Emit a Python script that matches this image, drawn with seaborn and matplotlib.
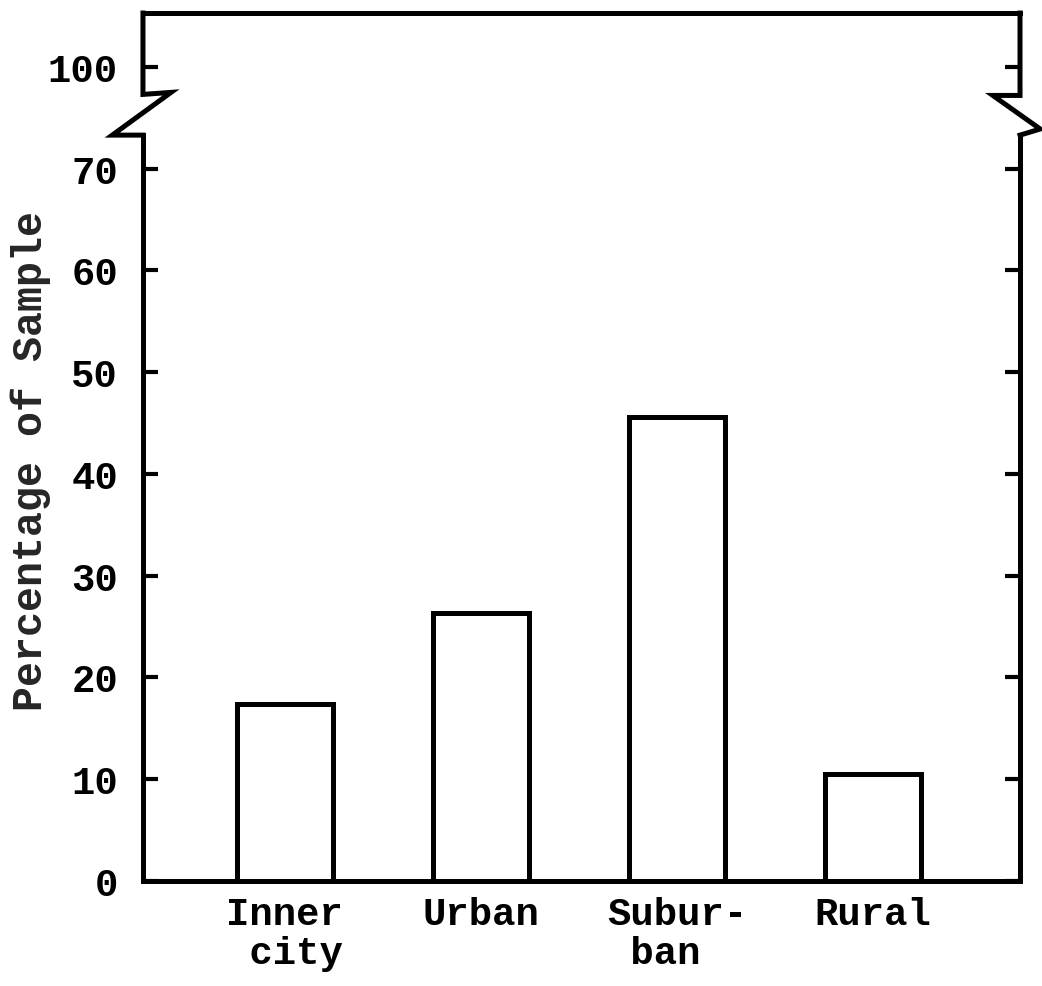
import pandas as pd
import matplotlib.pyplot as plt
import seaborn as sns
from matplotlib.transforms import blended_transform_factory

# data (percent of sample per area type)
areas = ["Inner\n city", "Urban", "Subur-\n ban", "Rural"]
percent = [17.4, 26.3, 45.6, 10.5]

# y axis is broken between 70 and 100: the "100" tick sits at 80
ytick_pos = [0, 10, 20, 30, 40, 50, 60, 70, 80]
ytick_labels = ["0", "10", "20", "30", "40", "50", "60", "70", "100"]

LW = 3.6


def draw_break(ax):
    # zigzag break marks on both vertical spines (x in axes coords, y in data)
    trans = blended_transform_factory(ax.transAxes, ax.transData)
    ytop = ax.get_ylim()[1]
    left = [(0.0, ytop), (0.0, 77.3), (0.032, 77.5), (-0.035, 73.3), (0.0, 73.3)]
    right = [(1.0, ytop), (1.0, 77.2), (0.969, 77.2), (1.023, 73.9), (1.0, 73.3)]
    for pts in (left, right):
        xs, ys = zip(*pts)
        ax.plot(xs, ys, color="black", lw=LW, transform=trans, clip_on=False,
                solid_joinstyle="miter", solid_capstyle="projecting")


def run():
    sns.set_style("ticks")
    plt.rcParams["font.family"] = ["Liberation Mono", "DejaVu Sans Mono"]
    plt.rcParams["font.weight"] = "bold"

    df = pd.DataFrame({"area": areas, "percent": percent})

    fig = plt.figure(figsize=(10.42, 9.87), dpi=100)
    ax = fig.add_axes([0.1372, 0.1064, 0.8417, 0.8794])

    sns.barplot(data=df, x="area", y="percent", color="white", edgecolor="black",
                linewidth=LW, width=0.49, saturation=1, ax=ax)

    ax.set_xlim(-0.724, 3.75)
    ax.set_ylim(0, 85.3)
    ax.set_yticks(ytick_pos)
    ax.set_yticklabels(ytick_labels)
    ax.set_xlabel("")
    ax.set_ylabel("Percentage of Sample", fontsize=30, labelpad=0, fontweight="bold")
    ax.yaxis.set_label_coords(-0.105, 0.485)

    for side in ["top", "bottom", "left", "right"]:
        ax.spines[side].set_visible(True)
        ax.spines[side].set_linewidth(LW)
        ax.spines[side].set_color("black")
    ax.spines["left"].set_bounds(0, 73.3)
    ax.spines["right"].set_bounds(0, 73.3)

    ax.tick_params(axis="y", direction="in", length=11, width=3, left=True, right=True,
                   labelsize=28, pad=18, colors="black")
    ax.tick_params(axis="x", length=0, labelsize=28, pad=11, colors="black")
    for t in ax.get_xticklabels():
        t.set_multialignment("left")
        t.set_linespacing(1.1)

    draw_break(ax)

    fig.savefig("out.png", dpi=100, facecolor="white")


if __name__ == "__main__":
    run()
